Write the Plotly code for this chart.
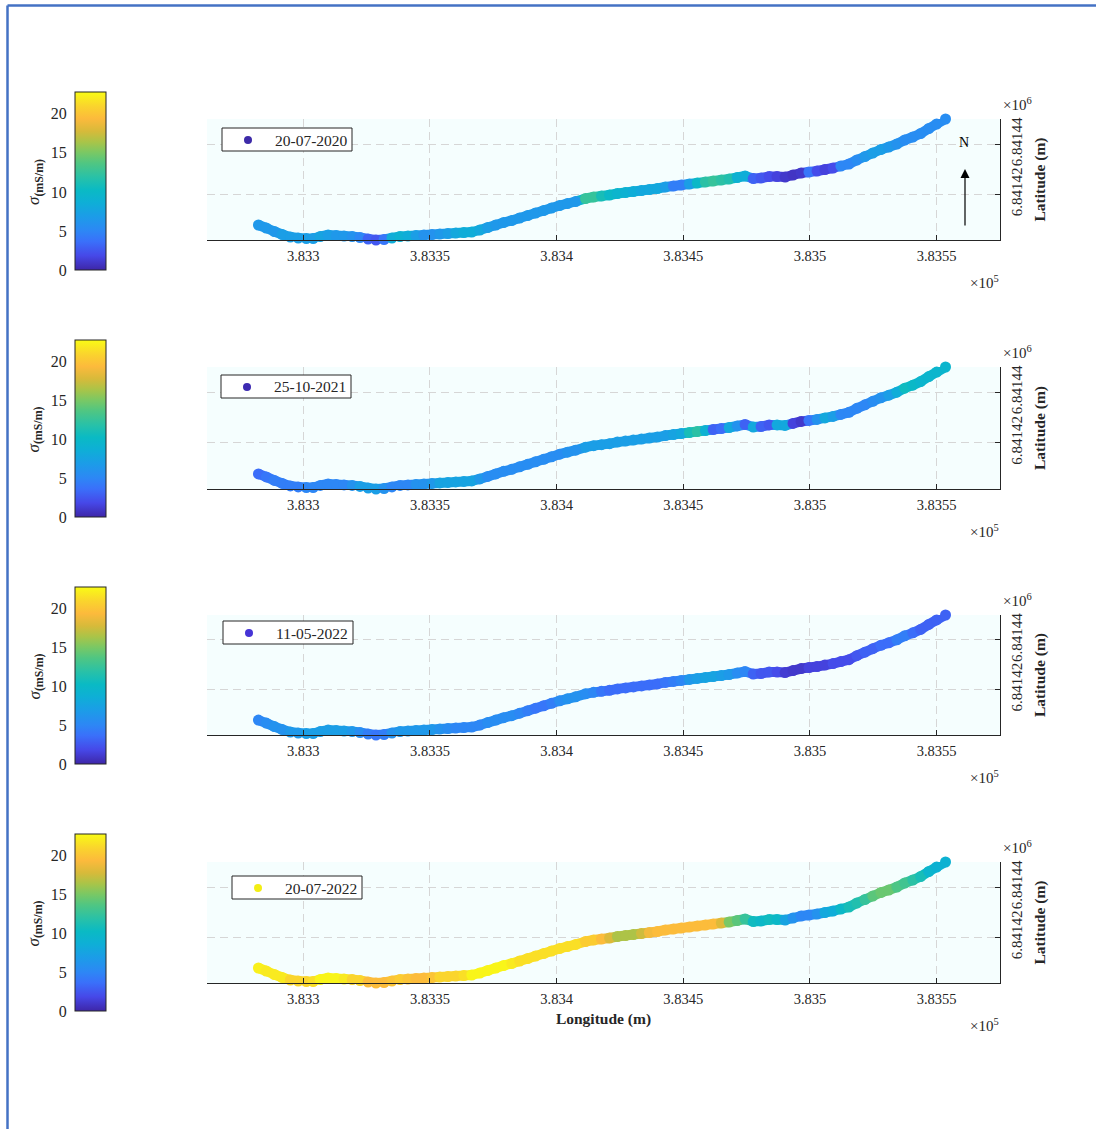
import plotly.graph_objects as go
from plotly.colors import sample_colorscale

W, H = 1096, 1129
FONT = "Liberation Serif"
TXT = "#262626"

# ---------------- data ----------------
dates = ["20-07-2020", "25-10-2021", "11-05-2022", "20-07-2022"]

lon = [383282.3, 383285.4, 383288.6, 383291.7, 383294.9, 383298.0, 383301.2, 383303.9, 383306.7, 383309.8,
       383313.0, 383316.1, 383319.3, 383322.4, 383325.6, 383328.7, 383331.9, 383335.0, 383338.2, 383341.3,
       383344.5, 383347.6, 383350.8, 383353.9, 383357.1, 383360.2, 383363.4, 383366.5, 383369.7, 383372.8,
       383376.0, 383379.1, 383382.3, 383385.4, 383388.6, 383391.7, 383394.9, 383398.0, 383401.2, 383404.3,
       383407.5, 383411.4, 383414.6, 383417.7, 383420.9, 383424.0, 383427.2, 383430.3, 383433.5, 383436.6,
       383439.8, 383442.9, 383446.1, 383449.2, 383452.4, 383455.5, 383458.7, 383461.8, 383465.0, 383468.1,
       383471.3, 383474.4, 383477.6, 383480.7, 383483.9, 383487.0, 383490.2, 383493.3, 383496.5, 383499.6,
       383502.8, 383505.9, 383509.1, 383512.2, 383515.4, 383518.5, 383521.7, 383524.8, 383528.0, 383531.1,
       383534.3, 383537.4, 383540.6, 383543.7, 383546.9, 383550.0, 383553.5]

lat = [6841407.6, 6841406.4, 6841405.0, 6841403.8, 6841402.8, 6841402.4, 6841402.2, 6841402.2, 6841403.0, 6841403.6,
       6841403.4, 6841403.2, 6841403.0, 6841402.6, 6841402.0, 6841401.6, 6841401.8, 6841402.4, 6841403.0, 6841403.2,
       6841403.4, 6841403.6, 6841403.8, 6841404.0, 6841404.2, 6841404.4, 6841404.6, 6841404.8, 6841405.6, 6841406.6,
       6841407.6, 6841408.6, 6841409.4, 6841410.4, 6841411.4, 6841412.4, 6841413.4, 6841414.4, 6841415.4, 6841416.2,
       6841417.0, 6841418.2, 6841418.8, 6841419.2, 6841419.6, 6841420.2, 6841420.6, 6841421.0, 6841421.4, 6841421.8,
       6841422.2, 6841422.8, 6841423.2, 6841423.6, 6841424.0, 6841424.4, 6841424.8, 6841425.2, 6841425.6, 6841426.0,
       6841426.6, 6841427.2, 6841426.2, 6841426.4, 6841427.0, 6841427.0, 6841426.8, 6841427.6, 6841428.4, 6841428.8,
       6841429.2, 6841429.8, 6841430.4, 6841431.2, 6841432.0, 6841433.6, 6841435.0, 6841436.4, 6841437.8, 6841438.8,
       6841440.0, 6841441.6, 6841442.8, 6841444.2, 6841446.2, 6841448.0, 6841450.0]

sigma_2020_07 = [6.5, 6.5, 6.5, 7, 7, 7, 7, 7, 7.5, 7,
                 6.5, 6.5, 6, 5, 3, 2.5, 4, 8.5, 9, 8.5,
                 7, 6, 6, 6.5, 7, 8, 8.5, 8.5, 8, 7,
                 6.5, 6.5, 6.5, 6.5, 6.5, 6.5, 6.5, 6.5, 6.5, 6.5,
                 6.5, 12.5, 12.5, 11, 10, 9.5, 9, 8.5, 8, 8,
                 8, 7, 4.5, 4.5, 7, 10, 12, 12.5, 12, 11.5,
                 9, 8.5, 3, 2.5, 2, 1.5, 1, 0.8, 1, 4,
                 2, 1.5, 2, 5, 5, 5.5, 6.5, 7, 7, 6.5,
                 6, 5.5, 5.5, 5.5, 5.5, 5.5, 5.5]

sigma_2021_10 = [3.5, 4, 4.5, 4.5, 4.5, 4.5, 5, 5, 5, 5,
                 5, 5, 6, 7, 7, 7, 6, 5, 5, 5,
                 6, 6, 6.5, 7.5, 7.5, 7.5, 7.5, 7.5, 6.5, 5.5,
                 5.5, 5.5, 5.5, 5.5, 5.5, 5.5, 5.5, 5.5, 5.5, 6,
                 6, 7, 7, 7, 7, 7, 7, 7, 7, 7,
                 7, 7, 7.5, 8, 11, 12, 9, 3, 3.5, 8,
                 6, 3, 8, 3, 2.5, 8, 8, 1.5, 1, 4,
                 6, 8, 7, 5, 5, 5, 5, 5.5, 6, 7,
                 8.5, 10.5, 10, 9.5, 9.5, 9.5, 9.5]

sigma_2022_05 = [5, 5.5, 6, 6, 6.5, 6.5, 7, 7, 7, 7,
                 7, 7, 6.5, 5.5, 4.5, 4, 4.5, 6, 6.5, 6.5,
                 6.5, 6.5, 6.5, 6, 5.5, 5, 5, 5, 5, 5.5,
                 5.5, 5.5, 5.5, 5, 4.5, 4, 4, 4.5, 5.5, 6,
                 6, 5.5, 5, 4, 3.5, 3.5, 3.5, 3.5, 3.5, 3.5,
                 3.5, 4, 4.5, 5, 6.5, 7, 7.5, 7.5, 7, 6.5,
                 5.5, 5, 3, 2.5, 2.5, 2, 1.2, 1, 1, 1.5,
                 1.5, 1.5, 2, 2, 2, 2.5, 3, 3, 3.5, 3.5,
                 4.5, 4.5, 3.5, 3, 3, 3, 3]

sigma_2022_07 = [22.3, 22, 22, 22, 21, 21, 21, 21.5, 22.5, 22.5,
                 22.5, 22, 21, 21, 19.5, 19.5, 19.5, 20, 20.5, 20,
                 19.5, 19.5, 20, 21, 21, 21, 21.5, 22.5, 22.5, 22.5,
                 22.5, 22.5, 22, 21.5, 21.5, 21.5, 21.5, 21.5, 21.5, 21.5,
                 21.5, 20.5, 20.5, 19.5, 18, 16.5, 16.5, 16.5, 17.5, 19,
                 19.5, 19.5, 19.5, 19.5, 19.5, 19.5, 19.5, 19.5, 18, 15,
                 14, 12.5, 10.5, 10, 10.5, 10, 7.5, 6, 5, 5,
                 6, 8, 8.5, 10, 11, 11.5, 12.5, 14, 14.5, 14.5,
                 13.5, 13, 12, 11, 9.5, 9, 9]

sigmas = [sigma_2020_07, sigma_2021_10, sigma_2022_05, sigma_2022_07]
legend_colors = ["#3d2aa8", "#3d2ab2", "#4634d6", "#f3ee14"]

xtick_vals = [383300, 383350, 383400, 383450, 383500, 383550]
xtick_text = ["3.833", "3.8335", "3.834", "3.8345", "3.835", "3.8355"]
ytick_vals = [6841420, 6841440]
ytick_text = ["6.84142", "6.84144"]
cbar_ticks = [0, 5, 10, 15, 20]
x_range = [383262, 383575]
y_range = [6841401.6, 6841450.0]
sigma_min, sigma_max = 0, 22.8

parula = [
    [0.00, "rgb(62,38,168)"],
    [0.08, "rgb(70,72,232)"],
    [0.16, "rgb(58,112,250)"],
    [0.22, "rgb(45,135,245)"],
    [0.30, "rgb(28,156,232)"],
    [0.38, "rgb(14,175,214)"],
    [0.45, "rgb(10,186,196)"],
    [0.52, "rgb(40,193,168)"],
    [0.60, "rgb(80,198,130)"],
    [0.66, "rgb(122,200,100)"],
    [0.72, "rgb(170,196,72)"],
    [0.78, "rgb(215,186,58)"],
    [0.85, "rgb(252,186,60)"],
    [0.92, "rgb(250,212,45)"],
    [1.00, "rgb(249,251,21)"],
]

# ---------------- layout geometry (pixels) ----------------
AX_L, AX_R = 207, 1000
ax_top = [119, 367, 615, 862]
ax_bot = [240, 489, 735, 983]
CB_L, CB_R = 75, 106
cb_top = [92, 340, 587, 834]
cb_bot = [270, 517, 764, 1011]
leg_pos = [(222, 128), (221, 375), (223, 621), (232, 876)]
LEG_W, LEG_H = 130, 23


def px(xp):
    return xp / W


def py(yp):
    return 1 - yp / H


def norm(v):
    return (v - sigma_min) / (sigma_max - sigma_min)


fig = go.Figure()
annotations = []
shapes = []
layout = {}

for i in range(4):
    xa_main, ya_main = f"x{2*i+1}", f"y{2*i+1}"
    xa_cb, ya_cb = f"x{2*i+2}", f"y{2*i+2}"
    cb_center = (cb_top[i] + cb_bot[i]) / 2
    cb_len = cb_bot[i] - cb_top[i]
    sig = sigmas[i]

    # thick connecting segments between consecutive survey points (colour of the pair)
    for j in range(len(lon) - 1):
        seg_col = sample_colorscale(parula, [norm((sig[j] + sig[j + 1]) / 2)])[0]
        fig.add_trace(go.Scatter(
            x=lon[j:j + 2], y=lat[j:j + 2], mode="lines", xaxis=xa_main, yaxis=ya_main,
            showlegend=False, cliponaxis=False, hoverinfo="skip",
            line=dict(color=seg_col, width=10),
        ))

    fig.add_trace(go.Scatter(
        x=lon, y=lat, mode="markers", xaxis=xa_main, yaxis=ya_main, name=dates[i],
        showlegend=False, cliponaxis=False, hoverinfo="skip",
        marker=dict(size=11, color=sig, colorscale=parula, cmin=sigma_min, cmax=sigma_max,
                    line=dict(width=0), showscale=True,
                    colorbar=dict(x=px(CB_L), xanchor="left", y=py(cb_center), yanchor="middle",
                                  len=cb_len, lenmode="pixels", thickness=CB_R - CB_L,
                                  thicknessmode="pixels", outlinewidth=1, outlinecolor=TXT,
                                  showticklabels=False, ticks="", xpad=0, ypad=0)),
    ))
    # axis carrying colorbar tick labels
    fig.add_trace(go.Scatter(x=[], y=[], xaxis=xa_cb, yaxis=ya_cb, showlegend=False, hoverinfo="skip"))

    n1, n2 = 2 * i + 1, 2 * i + 2
    k1 = "" if n1 == 1 else str(n1)
    layout[f"xaxis{k1}"] = dict(
        domain=[px(AX_L), px(AX_R)], anchor=ya_main, range=x_range,
        tickmode="array", tickvals=xtick_vals, ticktext=xtick_text,
        ticks="inside", ticklen=5, tickcolor=TXT, tickwidth=1, ticklabelstandoff=3,
        showline=True, linecolor=TXT, linewidth=1, mirror=False,
        showgrid=True, gridcolor="#d6d6d6", griddash="8px,5px", gridwidth=1,
        zeroline=False, tickfont=dict(family=FONT, size=14.5, color=TXT),
    )
    layout[f"yaxis{k1}"] = dict(
        domain=[py(ax_bot[i]), py(ax_top[i])], anchor=xa_main, range=y_range, side="right",
        tickmode="array", tickvals=ytick_vals, ticktext=ytick_text, tickangle=-90,
        ticks="inside", ticklen=5, tickcolor=TXT, tickwidth=1, ticklabelstandoff=3,
        showline=True, linecolor=TXT, linewidth=1,
        showgrid=True, gridcolor="#d6d6d6", griddash="8px,5px", gridwidth=1,
        zeroline=False, tickfont=dict(family=FONT, size=15, color=TXT),
        title=dict(text="<b>Latitude (m)</b>", font=dict(family=FONT, size=15.5, color=TXT), standoff=10),
    )
    if i == 3:
        layout[f"xaxis{k1}"]["title"] = dict(text="<b>Longitude (m)</b>",
                                             font=dict(family=FONT, size=15.5, color=TXT), standoff=6)

    layout[f"xaxis{n2}"] = dict(domain=[px(CB_L), px(CB_R)], anchor=ya_cb, range=[0, 1], visible=False)
    layout[f"yaxis{n2}"] = dict(
        domain=[py(cb_bot[i]), py(cb_top[i])], anchor=xa_cb, range=[sigma_min, sigma_max], side="left",
        tickmode="array", tickvals=cbar_ticks, ticks="outside", ticklen=4, tickcolor="rgba(0,0,0,0)",
        showline=False, showgrid=False, zeroline=False,
        tickfont=dict(family=FONT, size=16, color=TXT),
    )

    # legend box (one entry per panel)
    lx, ly = leg_pos[i]
    shapes.append(dict(type="rect", xref="paper", yref="paper", layer="above",
                       x0=px(lx), x1=px(lx + LEG_W), y0=py(ly), y1=py(ly + LEG_H),
                       line=dict(color=TXT, width=1), fillcolor="white"))
    shapes.append(dict(type="circle", xref="paper", yref="paper", layer="above",
                       x0=px(lx + 22), x1=px(lx + 30), y0=py(ly + 8), y1=py(ly + 16),
                       line=dict(width=0), fillcolor=legend_colors[i]))
    annotations.append(dict(text=dates[i], xref="paper", yref="paper",
                            x=px(lx + 51), y=py(ly + LEG_H / 2 + 0.5), xanchor="left", yanchor="middle",
                            showarrow=False, font=dict(family=FONT, size=15.5, color=TXT)))

    annotations.append(dict(text="×10<sup>5</sup>", xref="paper", yref="paper",
                            x=px(AX_R + 1), y=py(ax_bot[i] + 42), xanchor="right", yanchor="middle",
                            showarrow=False, font=dict(family=FONT, size=15, color=TXT)))
    annotations.append(dict(text="×10<sup>6</sup>", xref="paper", yref="paper",
                            x=px(AX_R + 1), y=py(ax_top[i] - 15), xanchor="left", yanchor="middle",
                            showarrow=False, font=dict(family=FONT, size=15, color=TXT)))
    annotations.append(dict(text="<i>σ</i><sub><b>(mS/m)</b></sub>", xref="paper", yref="paper",
                            x=px(35), y=py(cb_center + 1), xanchor="center", yanchor="middle",
                            textangle=-90, showarrow=False,
                            font=dict(family=FONT, size=17, color=TXT)))

# North arrow (panel 1)
annotations.append(dict(text="", xref="paper", yref="paper", x=px(965), y=py(169),
                        ax=0, ay=58, axref="pixel", ayref="pixel",
                        showarrow=True, arrowhead=2, arrowsize=1.5, arrowwidth=1.2, arrowcolor="black"))
annotations.append(dict(text="N", xref="paper", yref="paper", x=px(964), y=py(143),
                        xanchor="center", yanchor="middle",
                        showarrow=False, font=dict(family=FONT, size=14, color="black")))

# outer frame of the figure
shapes += [
    dict(type="line", xref="paper", yref="paper", x0=px(7.5), x1=1, y0=py(5.5), y1=py(5.5),
         line=dict(color="#4472C4", width=2.5)),
    dict(type="line", xref="paper", yref="paper", x0=px(7.5), x1=px(7.5), y0=py(5.5), y1=0,
         line=dict(color="#4472C4", width=2.5)),
]

fig.update_layout(
    width=W, height=H, margin=dict(l=0, r=0, t=0, b=0, autoexpand=False),
    paper_bgcolor="white", plot_bgcolor="#F5FEFE", showlegend=False,
    annotations=annotations, shapes=shapes,
    font=dict(family=FONT, color=TXT),
    **layout,
)

fig.write_html("out.html", config={"displayModeBar": False},
               post_script="document.body.style.margin='0';")
